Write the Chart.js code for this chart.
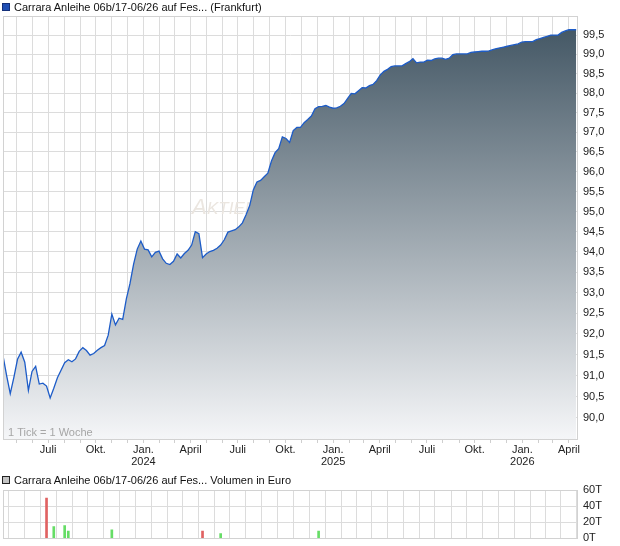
<!DOCTYPE html>
<html>
<head>
<meta charset="utf-8">
<script src="https://cdn.jsdelivr.net/npm/chart.js@4.4.1/dist/chart.umd.min.js"></script>
<style>
  body { margin: 0; background: #fff; font-family: "Liberation Sans", Arial, sans-serif; }
  #wrap { position: relative; width: 620px; height: 546px; overflow: hidden; }
  .ttl { position: absolute; left: 2px; font-size: 11px; line-height: 13px; color: #111; white-space: nowrap; }
  .ttl i { display: inline-block; width: 6px; height: 6px; border: 1px solid #222; margin-right: 4px; vertical-align: 0px; }
  #mainChart { position: absolute; left: 0; top: 0; }
  #volChart { position: absolute; left: 0; top: 470px; }
</style>
</head>
<body>
<div id="wrap">
  <canvas id="mainChart" width="620" height="470"></canvas>
  <canvas id="volChart" width="620" height="80"></canvas>
  <div class="ttl" style="top:1px"><i style="background:#1f4fb4;border-color:#14307a"></i>Carrara Anleihe 06b/17-06/26 auf Fes... (Frankfurt)</div>
  <div class="ttl" style="top:474px"><i style="background:#c4c4c4"></i>Carrara Anleihe 06b/17-06/26 auf Fes... Volumen in Euro</div>
</div>
<script>
// ── Data (weekly closes, first week starting 2023-04-05) ──
const startDate = Date.UTC(2023, 3, 5);
const prices = [
  91.48, 91.0, 90.57, 90.96, 91.39, 91.56, 91.32, 90.65, 91.1, 91.22,
  90.8, 90.82, 90.75, 90.47, 90.7, 90.95, 91.13, 91.31, 91.38, 91.33,
  91.4, 91.58, 91.67, 91.6, 91.49, 91.53, 91.61, 91.67, 91.72, 91.97,
  92.48, 92.22, 92.38, 92.35, 92.85, 93.22, 93.7, 94.07, 94.27, 94.07,
  94.05, 93.88, 93.99, 94.02, 93.83, 93.72, 93.69, 93.77, 93.95, 93.85,
  93.96, 94.04, 94.17, 94.5, 94.45, 93.86, 93.95, 94.01, 94.04, 94.09,
  94.17, 94.3, 94.49, 94.52, 94.55, 94.62, 94.72, 94.92, 95.15, 95.54,
  95.74, 95.78, 95.87, 95.96, 96.27, 96.48, 96.58, 96.88, 96.84, 96.74,
  97.04, 97.12, 97.12, 97.24, 97.32, 97.41, 97.6, 97.65, 97.66, 97.68,
  97.64, 97.61, 97.62, 97.66, 97.73, 97.86, 97.99, 97.98, 98.06, 98.14,
  98.13, 98.19, 98.22, 98.32, 98.47, 98.56, 98.61, 98.68, 98.7, 98.7,
  98.7, 98.76, 98.81, 98.89, 98.78, 98.8, 98.8, 98.85, 98.84, 98.88,
  98.9, 98.9, 98.87, 98.9, 98.99, 99.01, 99.01, 99.01, 99.01, 99.05,
  99.06, 99.07, 99.08, 99.08, 99.09, 99.12, 99.15, 99.17, 99.19, 99.21,
  99.23, 99.25, 99.27, 99.32, 99.33, 99.33, 99.33, 99.38, 99.41, 99.44,
  99.47, 99.5, 99.5, 99.5, 99.57, 99.61, 99.64, 99.64, 99.64
];
// volume in thousand euro, by week index
const volWeeks  = [12, 14, 17, 18, 30, 55, 60, 87];
const volValues = [50, 14.5, 16, 9, 10.5, 9, 6, 9];

const priceTicks = [90, 90.5, 91, 91.5, 92, 92.5, 93, 93.5, 94, 94.5, 95, 95.5, 96, 96.5, 97, 97.5, 98, 98.5, 99, 99.5];
const volTicks = [0, 20, 40, 60];
const monthLabels = { 0: 'Jan.', 3: 'April', 6: 'Juli', 9: 'Okt.' };

// ── helpers ──
const WEEK = 7 * 864e5;
const X_MAX = 158.5;
const font = { family: '"Liberation Sans", Arial, sans-serif', size: 11 };

function monthTicks() {
    const out = [];
    for (let k = 0; k < 36; k++) {
        const y = 2023 + Math.floor((4 + k) / 12), m = (4 + k) % 12;
        out.push({ value: (Date.UTC(y, m, 1) - startDate) / WEEK, m: m, y: y });
    }
    return out;
}

function monthLabel(value, index, ticks) {
    const t = ticks[index];
    if (!(t.m in monthLabels)) return '';
    return t.m === 0 ? [monthLabels[0], String(t.y)] : monthLabels[t.m];
}

const framePlugin = {
    id: 'frame',
    afterDraw(chart) {
        const { ctx, chartArea: a } = chart;
        ctx.save();
        ctx.strokeStyle = '#d2d2d2';
        ctx.lineWidth = 1;
        ctx.strokeRect(Math.round(a.left) + 0.5, Math.round(a.top) + 0.5,
                       Math.round(a.right - a.left) - 1, Math.round(a.bottom - a.top));
        ctx.restore();
    }
};

const notesPlugin = {
    id: 'notes',
    beforeDatasetsDraw(chart) {
        const { ctx } = chart;
        ctx.save();
        ctx.fillStyle = '#ebe6e0';
        ctx.textBaseline = 'alphabetic';
        ctx.font = 'italic 22px "Liberation Sans", Arial, sans-serif';
        ctx.fillText('A', 192, 214);
        ctx.font = 'italic 17px "Liberation Sans", Arial, sans-serif';
        ctx.fillText('KTIENCHECK', 207, 214);
        ctx.restore();
    },
    afterDatasetsDraw(chart) {
        const { ctx, chartArea: a } = chart;
        ctx.save();
        ctx.fillStyle = '#a6a6a6';
        ctx.font = '11px "Liberation Sans", Arial, sans-serif';
        ctx.textBaseline = 'alphabetic';
        ctx.fillText('1 Tick = 1 Woche', a.left + 5, a.bottom - 3);
        ctx.restore();
    }
};

// ── Price chart ──
new Chart(document.getElementById('mainChart'), {
    type: 'line',
    data: {
        datasets: [{
            data: prices.map((v, i) => ({ x: i, y: v })),
            borderColor: '#1d5cc8',
            borderWidth: 1.3,
            pointRadius: 0,
            tension: 0,
            fill: 'start',
            backgroundColor: c => {
                const { ctx, chartArea } = c.chart;
                if (!chartArea) return null;
                const g = ctx.createLinearGradient(0, chartArea.top, 0, chartArea.bottom);
                g.addColorStop(0, '#3f5361');
                g.addColorStop(1, '#f5f6f8');
                return g;
            }
        }]
    },
    options: {
        responsive: false,
        animation: false,
        events: [],
        layout: { padding: { left: 3, top: 16, right: 0, bottom: 0 } },
        plugins: { legend: { display: false }, tooltip: { enabled: false } },
        scales: {
            x: {
                type: 'linear',
                min: 0,
                max: X_MAX,
                afterBuildTicks: s => { s.ticks = monthTicks(); },
                afterFit: s => { s.height = 31; },
                ticks: { autoSkip: false, maxRotation: 0, padding: 1, color: '#222',
                         font: { ...font, lineHeight: 1.1 }, callback: monthLabel },
                grid: { color: '#dcdcdc', tickColor: '#cfcfcf', tickLength: 4 },
                border: { display: false }
            },
            y: {
                type: 'logarithmic',
                position: 'right',
                min: 89.5,
                max: 100,
                afterBuildTicks: s => { s.ticks = priceTicks.map(v => ({ value: v })); },
                afterFit: s => { s.width = 42; },
                ticks: { padding: 5, color: '#222', font: font,
                         callback: v => v.toFixed(1).replace('.', ',') },
                grid: { color: '#dcdcdc', drawTicks: false },
                border: { display: false }
            }
        }
    },
    plugins: [notesPlugin, framePlugin]
});

// ── Volume chart ──
const volColors = volWeeks.map(w => prices[w] < prices[w - 1] ? '#e06262' : '#66dd66');

new Chart(document.getElementById('volChart'), {
    type: 'bar',
    data: {
        datasets: [{
            data: volWeeks.map((w, i) => ({ x: w, y: volValues[i] })),
            backgroundColor: volColors,
            barThickness: 2,
            grouped: false
        }]
    },
    options: {
        responsive: false,
        animation: false,
        events: [],
        layout: { padding: { left: 3, top: 20, right: 0, bottom: 0 } },
        plugins: { legend: { display: false }, tooltip: { enabled: false } },
        scales: {
            x: {
                type: 'linear',
                min: 0,
                max: X_MAX,
                offset: false,
                afterBuildTicks: s => { s.ticks = monthTicks(); },
                afterFit: s => { s.height = 5; },
                ticks: { display: false },
                grid: { color: '#dcdcdc', drawTicks: false },
                border: { display: false }
            },
            y: {
                position: 'right',
                min: 0,
                max: 60,
                afterBuildTicks: s => { s.ticks = volTicks.map(v => ({ value: v })); },
                afterFit: s => { s.width = 42; },
                ticks: { padding: 5, color: '#222', font: font, callback: v => v + 'T' },
                grid: { color: '#dcdcdc', drawTicks: false },
                border: { display: false }
            }
        }
    },
    plugins: [framePlugin]
});
</script>
</body>
</html>
